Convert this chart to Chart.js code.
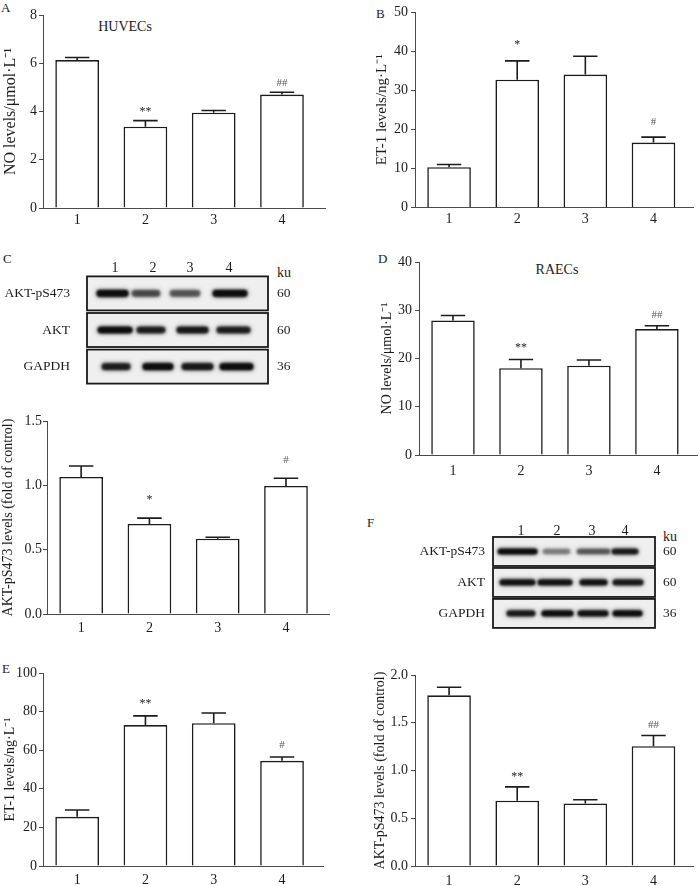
<!DOCTYPE html>
<html><head><meta charset="utf-8">
<script src="https://cdn.jsdelivr.net/npm/chart.js@4.4.1/dist/chart.umd.min.js"></script>
<style>
html,body{margin:0;padding:0;background:#fff;}
#fig{position:relative;width:700px;height:886px;overflow:hidden;font-family:"Liberation Serif","Times New Roman",serif;color:#1c1c1c;}
.box{position:absolute;}
.lbl{position:absolute;white-space:nowrap;line-height:1;}
.ctr{transform:translate(-50%,-50%);}
</style></head><body>
<div id="fig">
  <div class="lbl" style="left:1px;top:1px;font-size:13px">A</div>
  <div class="lbl" style="left:376px;top:7px;font-size:13px">B</div>
  <div class="lbl ctr" style="left:125px;top:27px;font-size:14px">HUVECs</div>
  <div class="lbl" style="left:3px;top:252px;font-size:13px">C</div>
  <div class="lbl" style="left:277px;top:266px;font-size:14px">ku</div>
  <div class="lbl" style="left:378px;top:252px;font-size:13px">D</div>
  <div class="lbl ctr" style="left:557px;top:270px;font-size:14px">RAECs</div>
  <div class="lbl" style="left:2px;top:662px;font-size:13px">E</div>
  <div class="lbl" style="left:367px;top:516px;font-size:13px">F</div>
  <div class="lbl" style="left:663px;top:530px;font-size:14px">ku</div>
</div>
<script>
const FONT = '"Liberation Serif","Times New Roman",serif';
const INK = '#1c1c1c';
const AXIS = '#4a4a4a';

// ---- categories ----
const groups = ['1', '2', '3', '4'];

// ---- axis titles ----
const yTitleNO = 'NO levels/μmol·L⁻¹';
const yTitleET = 'ET-1 levels/ng·L⁻¹';
const yTitleAKT = 'AKT-pS473 levels (fold of control)';

// ---- A: NO, HUVECs ----
const noHUVEC = [6.13, 3.37, 3.95, 4.70];
const noHUVECErr = [0.11, 0.25, 0.09, 0.10];
const noHUVECSig = ['', '**', '', '##'];
const noHUVECTicks = [0, 2, 4, 6, 8];

// ---- B: ET-1, HUVECs ----
const et1HUVEC = [10.3, 32.7, 34.0, 16.6];
const et1HUVECErr = [0.7, 4.8, 4.7, 1.4];
const et1HUVECSig = ['', '*', '', '#'];
const et1HUVECTicks = [0, 10, 20, 30, 40, 50];

// ---- C: AKT-pS473, HUVECs ----
const aktHUVEC = [1.065, 0.70, 0.585, 0.995];
const aktHUVECErr = [0.085, 0.045, 0.011, 0.06];
const aktHUVECSig = ['', '*', '', '#'];
const aktHUVECTicks = [0, 0.5, 1.0, 1.5];

// ---- D: NO, RAECs ----
const noRAEC = [27.9, 18.0, 18.5, 26.1];
const noRAECErr = [1.0, 1.8, 1.2, 0.7];
const noRAECSig = ['', '**', '', '##'];
const noRAECTicks = [0, 10, 20, 30, 40];

// ---- E: ET-1, RAECs ----
const et1RAEC = [25.5, 73.0, 74.0, 54.5];
const et1RAECErr = [3.5, 4.8, 5.3, 2.0];
const et1RAECSig = ['', '**', '', '#'];
const et1RAECTicks = [0, 20, 40, 60, 80, 100];

// ---- F: AKT-pS473, RAECs ----
const aktRAEC = [1.787, 0.683, 0.655, 1.254];
const aktRAECErr = [0.084, 0.146, 0.038, 0.112];
const aktRAECSig = ['', '**', '', '##'];
const aktRAECTicks = [0, 0.5, 1.0, 1.5, 2.0];

// ---- Western blots ----
const blotRows = ['AKT-pS473', 'AKT', 'GAPDH'];
const blotKu = ['60', '60', '36'];
const blotLanes = ['1', '2', '3', '4'];
// HUVECs blot (C): lane label positions and band extents (0-100 across membrane)
const blotHUVECLanePos = [15.5, 36.5, 56.9, 78.5];
const blotHUVECBands = [
  [[5.5, 22.7], [24.9, 40.3], [45.9, 62.4], [69.6, 88.4]],
  [[6.1, 24.9], [27.6, 43.1], [49.7, 66.9], [71.8, 90.1]],
  [[8.3, 23.8], [30.9, 47.5], [52.5, 69.6], [73.5, 91.7]]
];
const blotHUVECDensity = [
  [0.95, 0.55, 0.5, 0.95],
  [0.95, 0.8, 0.85, 0.8],
  [0.8, 0.95, 0.85, 0.95]
];
// RAECs blot (F)
const blotRAECLanePos = [17.3, 39.5, 61.1, 81.5];
const blotRAECBands = [
  [[3.1, 27.2], [30.9, 47.5], [51.9, 72.2], [73.5, 89.5]],
  [[4.3, 25.9], [27.8, 48.8], [53.7, 70.4], [74.1, 92.6]],
  [[8.6, 25.9], [30.2, 49.4], [52.5, 71.0], [74.1, 92.0]]
];
const blotRAECDensity = [
  [0.97, 0.35, 0.5, 0.85],
  [0.9, 0.9, 0.9, 0.85],
  [0.85, 0.95, 0.9, 0.95]
];

const fig = document.getElementById('fig');
function mount(g) {
  const d = document.createElement('div');
  d.className = 'box';
  d.style.left = g.L + 'px'; d.style.top = g.T + 'px';
  d.style.width = g.W + 'px'; d.style.height = g.H + 'px';
  const c = document.createElement('canvas');
  d.appendChild(c); fig.appendChild(d);
  return c;
}

const errMarks = {
  id: 'errMarks',
  afterDatasetsDraw(chart, args, opts) {
    const {ctx} = chart; const x = chart.scales.x, y = chart.scales.y;
    const ds = chart.data.datasets[0]; const meta = chart.getDatasetMeta(0);
    ctx.save();
    ds.data.forEach((p, i) => {
      const bar = meta.data[i];
      const cx = x.getPixelForValue(p.x);
      const y0 = y.getPixelForValue(p.y);
      const y1 = y.getPixelForValue(p.y + ds.errors[i]);
      const half = bar.width * 0.28;
      ctx.strokeStyle = INK; ctx.lineWidth = 1.6; ctx.lineCap = 'butt';
      ctx.beginPath();
      ctx.moveTo(cx, y0); ctx.lineTo(cx, y1);
      ctx.moveTo(cx - half, y1); ctx.lineTo(cx + half, y1);
      ctx.stroke();
      const m = ds.marks[i];
      if (m) {
        const hash = m[0] === '#';
        ctx.fillStyle = hash ? '#555' : '#222';
        ctx.font = (hash ? '11px ' : '12px ') + FONT;
        ctx.textAlign = 'center'; ctx.textBaseline = 'alphabetic';
        ctx.fillText(m, cx, y1 - opts.gap);
      }
    });
    ctx.restore();
  }
};

function barChart(g, vals, errs, sigs, ticks, title, dec) {
  const canvas = mount(g);
  return new Chart(canvas, {
    type: 'bar',
    data: { datasets: [{
      data: vals.map((v, i) => ({x: i + 1, y: v})),
      errors: errs, marks: sigs,
      backgroundColor: '#ffffff', borderColor: INK, borderWidth: 1.6,
      barPercentage: 0.64, categoryPercentage: 1
    }]},
    options: {
      animation: false, responsive: true, maintainAspectRatio: false, events: [],
      layout: {padding: {top: g.pt, right: g.pr, left: 0, bottom: g.pb || 0}},
      plugins: {legend: {display: false}, tooltip: {enabled: false}, errMarks: {gap: g.gap}},
      scales: {
        x: {
          type: 'linear', offset: false, min: 0.5, max: g.xmax,
          afterBuildTicks: s => { s.ticks = groups.map((c, i) => ({value: i + 1})); },
          afterFit: s => { s.height = g.xh; },
          ticks: {autoSkip: false, maxRotation: 0, padding: g.xp, color: INK,
                  font: {family: FONT, size: 14}, callback: (v, i) => groups[i]},
          grid: {display: false, drawTicks: false, tickLength: 0},
          border: {color: AXIS, width: 1}
        },
        y: {
          min: ticks[0], max: ticks[ticks.length - 1],
          afterBuildTicks: s => { s.ticks = ticks.map(v => ({value: v})); },
          afterFit: s => { s.width = g.yw; },
          ticks: {padding: g.yp, color: INK, font: {family: FONT, size: 14},
                  callback: v => Number(v).toFixed(dec)},
          grid: {drawOnChartArea: false, drawTicks: true, tickLength: 4, color: AXIS, lineWidth: 1},
          border: {color: AXIS, width: 1},
          title: {display: true, text: title, color: INK,
                  font: {family: FONT, size: g.ts}, padding: {top: g.tp, bottom: 0}}
        }
      }
    },
    plugins: [errMarks]
  });
}

const blotBoxes = {
  id: 'blotBoxes',
  beforeDatasetsDraw(chart, args, opts) {
    const {ctx, chartArea: a} = chart; const y = chart.scales.y;
    ctx.save();
    blotRows.forEach((r, i) => {
      const cy = y.getPixelForValue(i);
      ctx.fillStyle = '#efefef';
      ctx.fillRect(a.left, cy - opts.half, a.right - a.left, 2 * opts.half);
      ctx.strokeStyle = '#1a1a1a'; ctx.lineWidth = 1.8;
      ctx.strokeRect(a.left, cy - opts.half, a.right - a.left, 2 * opts.half);
    });
    ctx.restore();
    ctx.save();
    ctx.filter = 'blur(' + opts.blur + 'px)';
    ctx.shadowColor = 'rgba(10,10,10,0.9)';
    ctx.shadowBlur = opts.shadow;
    ctx.shadowOffsetX = 0; ctx.shadowOffsetY = 0;
  },
  afterDatasetsDraw(chart) { chart.ctx.restore(); }
};

function blotChart(g, bands, dens, lanePos) {
  const canvas = mount(g);
  const datasets = blotLanes.map((lane, i) => ({
    data: bands.map(row => row[i]),
    backgroundColor: dens.map(row => 'rgba(10,10,10,' + row[i] + ')'),
    borderWidth: 0, borderRadius: g.bt / 2, borderSkipped: false,
    barThickness: g.bt, grouped: false
  }));
  const noTick = {display: false, drawTicks: false, tickLength: 0};
  return new Chart(canvas, {
    type: 'bar',
    data: {labels: blotRows, datasets},
    options: {
      indexAxis: 'y', animation: false, responsive: true, maintainAspectRatio: false, events: [],
      layout: {padding: {top: 0, left: 0, right: 0, bottom: g.pb}},
      plugins: {legend: {display: false}, tooltip: {enabled: false},
                blotBoxes: {half: g.half, blur: g.blur, shadow: g.shadow}},
      scales: {
        x: {
          type: 'linear', position: 'top', min: 0, max: 100,
          afterBuildTicks: s => { s.ticks = lanePos.map(v => ({value: v})); },
          afterFit: s => { s.height = g.th; },
          ticks: {autoSkip: false, maxRotation: 0, padding: g.tpad, color: INK,
                  font: {family: FONT, size: 14, lineHeight: 1}, callback: (v, i) => blotLanes[i]},
          grid: noTick, border: {display: false}
        },
        y: {
          type: 'category', position: 'left', offset: true,
          afterFit: s => { s.width = g.lw; },
          ticks: {padding: g.lpad, color: INK, font: {family: FONT, size: 13.5}},
          grid: noTick, border: {display: false}
        },
        y2: {
          type: 'category', position: 'right', labels: blotKu, offset: true,
          afterFit: s => { s.width = g.rw; },
          ticks: {padding: g.rpad, color: INK, font: {family: FONT, size: 13.5}},
          grid: noTick, border: {display: false}
        }
      }
    },
    plugins: [blotBoxes]
  });
}

// Panels
barChart({L:0, T:0, W:335, H:230, yw:43, xh:22, pt:15, pr:10, xmax:4.63, xp:4, yp:2, ts:16, tp:1.4, gap:6},
         noHUVEC, noHUVECErr, noHUVECSig, noHUVECTicks, yTitleNO, 0);
barChart({L:355, T:0, W:345, H:230, yw:60, xh:22.5, pt:12, pr:7, xmax:4.58, xp:3, yp:3, ts:15, tp:18, gap:12.5},
         et1HUVEC, et1HUVECErr, et1HUVECSig, et1HUVECTicks, yTitleET, 0);
blotChart({L:0, T:250, W:320, H:160, lw:87, rw:52, th:24, pb:8.5, half:17, bt:6, blur:1.2, shadow:4, tpad:0, lpad:17, rpad:9},
          blotHUVECBands, blotHUVECDensity, blotHUVECLanePos);
barChart({L:0, T:405, W:345, H:234, yw:47, xh:21, pt:16, pr:16, pb:4, xmax:4.63, xp:5.5, yp:1, ts:14, tp:0, gap:15},
         aktHUVEC, aktHUVECErr, aktHUVECSig, aktHUVECTicks, yTitleAKT, 1);
barChart({L:355, T:245, W:345, H:235, yw:64, xh:25, pt:17, pr:3, xmax:4.59, xp:7.5, yp:3, ts:14, tp:23.6, gap:8},
         noRAEC, noRAECErr, noRAECSig, noRAECTicks, yTitleNO, 0);
blotChart({L:360, T:505, W:340, H:140, lw:133, rw:45, th:31, pb:6.4, half:14.5, bt:5, blur:1.1, shadow:4, tpad:-2, lpad:8, rpad:8},
          blotRAECBands, blotRAECDensity, blotRAECLanePos);
barChart({L:0, T:655, W:340, H:231, yw:43, xh:20, pt:18, pr:17, xmax:4.60, xp:5.6, yp:2, ts:14, tp:1.6, gap:8.5},
         et1RAEC, et1RAECErr, et1RAECSig, et1RAECTicks, yTitleET, 0);
barChart({L:355, T:655, W:345, H:231, yw:60, xh:20, pt:20, pr:7, xmax:4.58, xp:6.6, yp:3, ts:14, tp:16.6, gap:7.3},
         aktRAEC, aktRAECErr, aktRAECSig, aktRAECTicks, yTitleAKT, 1);
</script>
</body></html>
